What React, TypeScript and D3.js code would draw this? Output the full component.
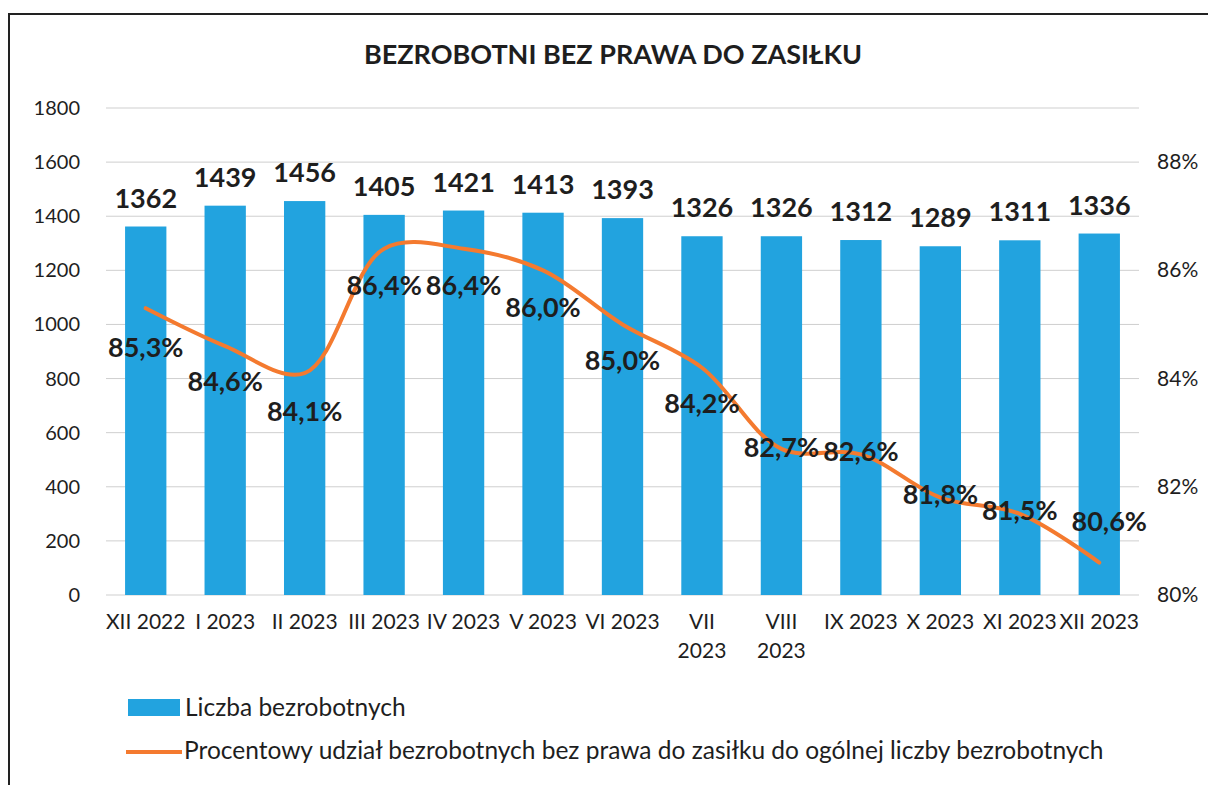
import React from 'react';
import * as d3 from 'd3';

// Data
const months = [
  'XII 2022', 'I 2023', 'II 2023', 'III 2023', 'IV 2023', 'V 2023', 'VI 2023',
  'VII 2023', 'VIII 2023', 'IX 2023', 'X 2023', 'XI 2023', 'XII 2023',
];
const wrappedMonths = ['VII 2023', 'VIII 2023'];
const unemployed = [1362, 1439, 1456, 1405, 1421, 1413, 1393, 1326, 1326, 1312, 1289, 1311, 1336];
const sharePct = [85.3, 84.6, 84.1, 86.4, 86.4, 86.0, 85.0, 84.2, 82.7, 82.6, 81.8, 81.5, 80.6];
const leftTicks = [0, 200, 400, 600, 800, 1000, 1200, 1400, 1600, 1800];
const rightTicks = [80, 82, 84, 86, 88];

// where each percentage label sits relative to its point (px)
const pctLabelDy = [39, 35, 38, 36, 36, 37, 36, 35, -2, -3, -4, -4, -42];
const pctLabelDx = [0, 0, 0, 0, 0, 0, 0, 0, 0, 0, 0, 0, 10];

const W = 1208;
const H = 785;
const FONT = 'Lato, "Open Sans", sans-serif';
const BLUE = '#22a3df';
const ORANGE = '#f47a2f';
const TEXT = '#1e1e1e';

const margin = { top: 108, left: 106 };
const plotRight = 1139;
const plotBottom = 595;

const App = () => {
  const x = d3.scaleBand<string>()
    .domain(months)
    .range([margin.left, plotRight])
    .paddingInner(0.48)
    .paddingOuter(0.24);

  const y = d3.scaleLinear().domain([0, 1800]).range([plotBottom, margin.top]);
  const y2 = d3.scaleLinear().domain([80, 89]).range([plotBottom, margin.top]);

  const cx = (m: string) => (x(m) as number) + x.bandwidth() / 2;

  const line = d3.line<number>()
    .x((_, i) => cx(months[i]))
    .y(d => y2(d))
    .curve(d3.curveCatmullRom.alpha(0.5));

  const fmtPct = (v: number) => v.toFixed(1).replace('.', ',') + '%';

  return (
    <svg
      width={W}
      height={H}
      style={{ position: 'absolute', left: 0, top: 0, background: '#fff' }}
      fontFamily={FONT}
    >
      {/* outer frame */}
      <rect x={9} y={14} width={W + 20} height={H + 20} fill="none" stroke="#222" strokeWidth={2} />

      <text x={613} y={64} textAnchor="middle" fontSize={27} fontWeight={700} fill={TEXT}>
        BEZROBOTNI BEZ PRAWA DO ZASIŁKU
      </text>

      {/* gridlines + left axis */}
      {leftTicks.map(t => (
        <g key={t}>
          <line x1={margin.left} x2={plotRight} y1={y(t)} y2={y(t)} stroke="#cfcfcf" strokeWidth={1} />
          <text x={80} y={y(t) + 7} textAnchor="end" fontSize={20} fill={TEXT}>{t}</text>
        </g>
      ))}

      {/* right axis */}
      {rightTicks.map(t => (
        <text key={t} x={1157} y={y2(t) + 7} fontSize={21} fill={TEXT}>{t}%</text>
      ))}

      {/* bars */}
      {unemployed.map((v, i) => (
        <rect
          key={months[i]}
          x={x(months[i])}
          y={y(v)}
          width={x.bandwidth()}
          height={plotBottom - y(v)}
          fill={BLUE}
        />
      ))}

      {/* bar value labels */}
      {unemployed.map((v, i) => (
        <text key={'v' + i} x={cx(months[i])} y={y(v) - 19} textAnchor="middle"
          fontSize={27} fontWeight={700} fill={TEXT}>
          {v}
        </text>
      ))}

      {/* percentage line */}
      <path d={line(sharePct) || ''} fill="none" stroke={ORANGE} strokeWidth={4} strokeLinecap="round" />

      {sharePct.map((v, i) => (
        <text key={'p' + i} x={cx(months[i]) + pctLabelDx[i]} y={y2(v) + pctLabelDy[i] + 10}
          textAnchor="middle" fontSize={27} fontWeight={700} fill={TEXT}>
          {fmtPct(v)}
        </text>
      ))}

      {/* x axis labels, two of them wrap */}
      {months.map(m => {
        const parts = wrappedMonths.includes(m) ? m.split(' ') : [m];
        return (
          <text key={'x' + m} x={cx(m)} y={629} textAnchor="middle" fontSize={21} fill={TEXT}>
            {parts.map((p, j) => (
              <tspan key={j} x={cx(m)} dy={j === 0 ? 0 : 29}>{p}</tspan>
            ))}
          </text>
        );
      })}

      {/* legend */}
      <rect x={128} y={699} width={52} height={17} fill={BLUE} />
      <text x={185} y={716} fontSize={24.5} fill={TEXT}>Liczba bezrobotnych</text>
      <line x1={126} x2={182} y1={752} y2={752} stroke={ORANGE} strokeWidth={4} />
      <text x={184} y={759} fontSize={24.5} fill={TEXT}>
        Procentowy udział bezrobotnych bez prawa do zasiłku do ogólnej liczby bezrobotnych
      </text>
    </svg>
  );
};

export default App;
